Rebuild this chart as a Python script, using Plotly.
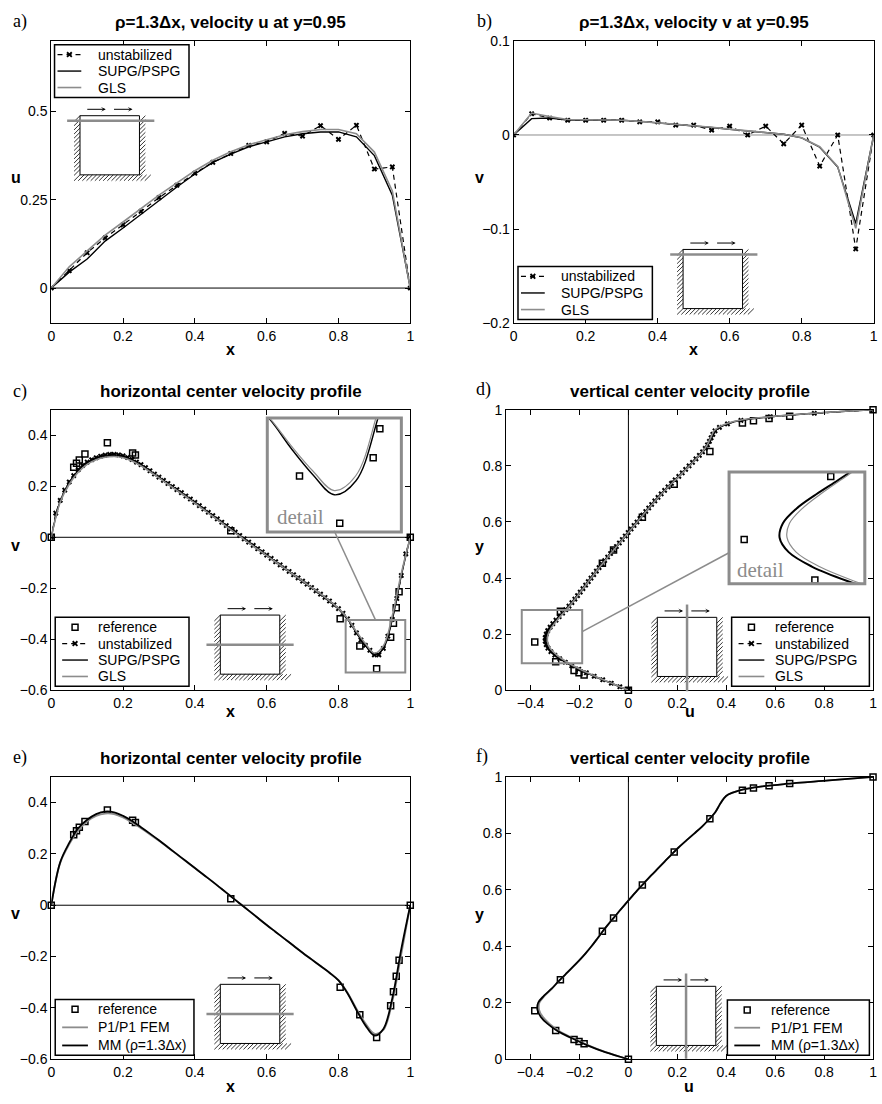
import plotly.graph_objects as go

W, H = 882, 1104


def fx(p):
    return p / W


def fy(p):
    return 1 - p / H


BLACK = "black"
GRAY = "#8c8c8c"
SANS = "Liberation Sans, Arial, sans-serif"
SERIF = "Liberation Serif, Times New Roman, serif"

# ---------------- data ----------------
# coarse mesh nodes along y = 0.95 (panels a, b)
x_coarse = [round(0.05 * i, 2) for i in range(21)]

u_unstab_a = [0, 0.049, 0.100, 0.142, 0.179, 0.217, 0.256, 0.291, 0.325, 0.356, 0.381,
              0.404, 0.414, 0.438, 0.430, 0.460, 0.421, 0.461, 0.337, 0.343, 0]
u_supg_a = [0, 0.045, 0.082, 0.133, 0.170, 0.209, 0.249, 0.286, 0.323, 0.356, 0.379,
            0.400, 0.414, 0.428, 0.437, 0.442, 0.442, 0.428, 0.375, 0.263, 0]
u_gls_a = [0, 0.060, 0.105, 0.150, 0.187, 0.225, 0.263, 0.298, 0.332, 0.362, 0.386,
           0.406, 0.420, 0.434, 0.443, 0.449, 0.449, 0.437, 0.385, 0.275, 0]

v_unstab_b = [0, 0.0226, 0.018, 0.0157, 0.0157, 0.0157, 0.0157, 0.014, 0.014, 0.0105, 0.0105,
              0.0052, 0.0094, 0.0, 0.0094, -0.0094, 0.0105, -0.033, 0.0, -0.121, 0]
v_supg_b = [0, 0.0174, 0.018, 0.016, 0.016, 0.016, 0.0157, 0.0145, 0.013, 0.0115, 0.0098,
            0.008, 0.006, 0.004, 0.0025, 0.0008, -0.003, -0.013, -0.034, -0.094, 0]
v_gls_b = [0, 0.0233, 0.0195, 0.0165, 0.0162, 0.016, 0.0157, 0.0145, 0.013, 0.0115, 0.0098,
           0.0082, 0.0062, 0.0042, 0.0026, 0.0008, -0.003, -0.0125, -0.0335, -0.099, 0]

# fine mesh nodes (panels c, d: unstabilized markers)
s_fine = [i / 80 for i in range(81)]

v_unstab_c = [0, 0.095, 0.145, 0.185, 0.217, 0.242, 0.265, 0.282, 0.295, 0.304,
              0.312, 0.318, 0.322, 0.325, 0.325, 0.323, 0.319, 0.313, 0.305, 0.295,
              0.285, 0.273, 0.261, 0.248, 0.236, 0.223, 0.211, 0.199, 0.187, 0.175,
              0.162, 0.150, 0.137, 0.124, 0.111, 0.098, 0.085, 0.072, 0.059, 0.046,
              0.033, 0.020, 0.007, -0.006, -0.019, -0.032, -0.045, -0.057, -0.070, -0.083,
              -0.096, -0.108, -0.121, -0.134, -0.147, -0.159, -0.172, -0.184, -0.197, -0.210,
              -0.223, -0.236, -0.250, -0.265, -0.280, -0.298, -0.320, -0.345, -0.375, -0.403,
              -0.424, -0.443, -0.461, -0.461, -0.436, -0.388, -0.322, -0.240, -0.150, -0.065,
              0]

u_unstab_d = [0, -0.035, -0.070, -0.105, -0.140, -0.172, -0.203, -0.232, -0.258, -0.281,
              -0.301, -0.317, -0.329, -0.336, -0.340, -0.340, -0.336, -0.330, -0.320, -0.309,
              -0.296, -0.283, -0.269, -0.256, -0.243, -0.231, -0.219, -0.208, -0.197, -0.186,
              -0.175, -0.164, -0.153, -0.142, -0.131, -0.120, -0.108, -0.097, -0.085, -0.073,
              -0.061, -0.049, -0.037, -0.025, -0.013, -0.001, 0.011, 0.023, 0.035, 0.047,
              0.059, 0.071, 0.083, 0.095, 0.108, 0.121, 0.134, 0.148, 0.162, 0.176,
              0.191, 0.206, 0.220, 0.234, 0.248, 0.262, 0.276, 0.290, 0.303, 0.314,
              0.323, 0.331, 0.338, 0.345, 0.354, 0.372, 0.405, 0.460, 0.580, 0.760,
              1.0]

# sampling of the smooth solutions
x_smooth = [round(0.025 * i, 3) for i in range(41)]

v_supg_c = [0, 0.143, 0.215, 0.262, 0.293, 0.311, 0.321, 0.324, 0.318, 0.304,
            0.284, 0.260, 0.235, 0.210, 0.186, 0.161, 0.136, 0.110, 0.084, 0.058,
            0.032, 0.006, -0.020, -0.046, -0.071, -0.097, -0.122, -0.148, -0.173, -0.198,
            -0.224, -0.251, -0.280, -0.320, -0.375, -0.424, -0.462, -0.436, -0.322, -0.150,
            0]
v_gls_c = [0, 0.138, 0.208, 0.255, 0.286, 0.304, 0.314, 0.317, 0.312, 0.299,
           0.280, 0.257, 0.233, 0.208, 0.184, 0.159, 0.134, 0.108, 0.082, 0.056,
           0.030, 0.004, -0.022, -0.047, -0.072, -0.097, -0.122, -0.147, -0.172, -0.197,
           -0.222, -0.249, -0.279, -0.318, -0.370, -0.417, -0.454, -0.426, -0.308, -0.142,
           0]

y_smooth = [0, 0.025, 0.05, 0.075, 0.1, 0.125, 0.15, 0.175, 0.2, 0.225,
            0.25, 0.275, 0.3, 0.325, 0.35, 0.375, 0.4, 0.425, 0.45, 0.475,
            0.5, 0.525, 0.55, 0.575, 0.6, 0.625, 0.65, 0.675, 0.7, 0.725,
            0.75, 0.775, 0.8, 0.825, 0.85, 0.875, 0.9, 0.925, 0.9375, 0.95,
            0.9625, 0.975, 0.9875, 1.0]

u_supg_d = [0, -0.070, -0.140, -0.203, -0.258, -0.301, -0.329, -0.340, -0.336, -0.320,
            -0.296, -0.269, -0.243, -0.219, -0.197, -0.175, -0.153, -0.131, -0.108, -0.085,
            -0.061, -0.037, -0.013, 0.011, 0.035, 0.059, 0.083, 0.108, 0.134, 0.162,
            0.191, 0.220, 0.248, 0.276, 0.303, 0.323, 0.338, 0.354, 0.372, 0.405,
            0.460, 0.580, 0.760, 1.0]
u_gls_d = [0, -0.068, -0.136, -0.197, -0.250, -0.292, -0.320, -0.331, -0.328, -0.313,
           -0.291, -0.266, -0.241, -0.218, -0.196, -0.174, -0.152, -0.130, -0.107, -0.084,
           -0.060, -0.036, -0.012, 0.012, 0.036, 0.060, 0.084, 0.109, 0.135, 0.163,
           0.192, 0.221, 0.249, 0.277, 0.303, 0.322, 0.336, 0.350, 0.368, 0.400,
           0.455, 0.575, 0.755, 1.0]

v_fem_e = [0, 0.165, 0.237, 0.291, 0.327, 0.348, 0.357, 0.355, 0.342, 0.322,
           0.300, 0.276, 0.251, 0.225, 0.198, 0.171, 0.145, 0.118, 0.091, 0.063,
           0.035, 0.007, -0.021, -0.049, -0.077, -0.104, -0.131, -0.158, -0.185, -0.211,
           -0.237, -0.263, -0.292, -0.340, -0.403, -0.460, -0.500, -0.486, -0.375, -0.190,
           0]
v_mm_e = [0, 0.168, 0.243, 0.300, 0.333, 0.355, 0.365, 0.362, 0.348, 0.328,
          0.304, 0.279, 0.253, 0.226, 0.199, 0.172, 0.145, 0.118, 0.091, 0.063,
          0.035, 0.007, -0.021, -0.049, -0.077, -0.104, -0.131, -0.158, -0.185, -0.211,
          -0.237, -0.263, -0.293, -0.343, -0.408, -0.468, -0.508, -0.482, -0.362, -0.170,
          0]

u_fem_f = [0, -0.093, -0.166, -0.228, -0.283, -0.322, -0.350, -0.365, -0.364, -0.342,
           -0.312, -0.286, -0.258, -0.229, -0.201, -0.175, -0.151, -0.129, -0.108, -0.085,
           -0.061, -0.037, -0.012, 0.013, 0.038, 0.065, 0.092, 0.120, 0.148, 0.176,
           0.205, 0.237, 0.270, 0.302, 0.330, 0.355, 0.372, 0.391, 0.408, 0.445,
           0.515, 0.640, 0.820, 1.0]
u_mm_f = [0, -0.095, -0.170, -0.233, -0.290, -0.330, -0.358, -0.372, -0.369, -0.345,
          -0.314, -0.287, -0.258, -0.229, -0.201, -0.175, -0.151, -0.129, -0.108, -0.085,
          -0.061, -0.037, -0.012, 0.013, 0.038, 0.065, 0.092, 0.120, 0.148, 0.176,
          0.205, 0.237, 0.270, 0.302, 0.330, 0.355, 0.372, 0.391, 0.408, 0.445,
          0.515, 0.640, 0.820, 1.0]

# reference solution (horizontal and vertical centre lines)
ref_x = [1.0, 0.9688, 0.9609, 0.9531, 0.9453, 0.9063, 0.8594, 0.8047, 0.5,
         0.2344, 0.2266, 0.1563, 0.0938, 0.0781, 0.0703, 0.0625, 0.0]
ref_v = [0.0, -0.21388, -0.27669, -0.33714, -0.39188, -0.51550, -0.42665, -0.31966, 0.02526,
         0.32235, 0.33075, 0.37095, 0.32627, 0.30353, 0.29012, 0.27485, 0.0]
ref_y = [1.0, 0.9766, 0.9688, 0.9609, 0.9531, 0.8516, 0.7344, 0.6172, 0.5,
         0.4531, 0.2813, 0.1719, 0.1016, 0.0703, 0.0625, 0.0547, 0.0]
ref_u = [1.0, 0.65928, 0.57492, 0.51117, 0.46604, 0.33304, 0.18719, 0.05702, -0.06080,
         -0.10648, -0.27805, -0.38289, -0.29730, -0.22220, -0.20196, -0.18109, 0.0]

titles = ["ρ=1.3Δx, velocity u at y=0.95", "ρ=1.3Δx, velocity v at y=0.95",
          "horizontal center velocity profile", "vertical center velocity profile",
          "horizontal center velocity profile", "vertical center velocity profile"]
letters = ["a)", "b)", "c)", "d)", "e)", "f)"]
names_stab = ["unstabilized", "SUPG/PSPG", "GLS"]
names_mm = ["reference", "P1/P1 FEM", "MM (ρ=1.3Δx)"]

# ---------------- figure ----------------
fig = go.Figure()

UNSTAB_LINE = dict(color=BLACK, width=1.2, dash="5px,4px")
SUPG_LINE = dict(color=BLACK, width=1.4)
GLS_LINE = dict(color=GRAY, width=1.6)


def unstab(x, y, xa, ya, size):
    return go.Scatter(x=x, y=y, xaxis=xa, yaxis=ya, name=names_stab[0], showlegend=False,
                      mode="lines+markers", line=UNSTAB_LINE,
                      marker=dict(symbol="x", size=size, color=BLACK, line=dict(width=0)))


def curve(x, y, xa, ya, name, line, shape="linear"):
    return go.Scatter(x=x, y=y, xaxis=xa, yaxis=ya, name=name, mode="lines",
                      line=dict(line, shape=shape), showlegend=False)


def refpts(x, y, xa, ya, clip=False):
    return go.Scatter(x=x, y=y, xaxis=xa, yaxis=ya, name="reference",
                      mode="markers", showlegend=False, cliponaxis=clip,
                      marker=dict(symbol="square-open", size=6, color=BLACK,
                                  line=dict(width=1.5, color=BLACK)))


# a)
fig.add_trace(unstab(x_coarse, u_unstab_a, "x", "y", 5))
fig.add_trace(curve(x_coarse, u_supg_a, "x", "y", names_stab[1], SUPG_LINE))
fig.add_trace(curve(x_coarse, u_gls_a, "x", "y", names_stab[2], GLS_LINE))
# b)
fig.add_trace(unstab(x_coarse, v_unstab_b, "x2", "y2", 5))
fig.add_trace(curve(x_coarse, v_supg_b, "x2", "y2", names_stab[1], SUPG_LINE))
fig.add_trace(curve(x_coarse, v_gls_b, "x2", "y2", names_stab[2], GLS_LINE))
# c)
fig.add_trace(refpts(ref_x, ref_v, "x3", "y3"))
fig.add_trace(unstab(s_fine, v_unstab_c, "x3", "y3", 5))
fig.add_trace(curve(x_smooth, v_supg_c, "x3", "y3", names_stab[1], SUPG_LINE, "spline"))
fig.add_trace(curve(x_smooth, v_gls_c, "x3", "y3", names_stab[2], GLS_LINE, "spline"))
# d)
fig.add_trace(refpts(ref_u, ref_y, "x4", "y4"))
fig.add_trace(unstab(u_unstab_d, s_fine, "x4", "y4", 5))
fig.add_trace(curve(u_supg_d, y_smooth, "x4", "y4", names_stab[1], SUPG_LINE, "spline"))
fig.add_trace(curve(u_gls_d, y_smooth, "x4", "y4", names_stab[2], GLS_LINE, "spline"))
# e)
fig.add_trace(refpts(ref_x, ref_v, "x5", "y5"))
fig.add_trace(curve(x_smooth, v_fem_e, "x5", "y5", names_mm[1], dict(color=GRAY, width=1.8), "spline"))
fig.add_trace(curve(x_smooth, v_mm_e, "x5", "y5", names_mm[2], dict(color=BLACK, width=1.8), "spline"))
# f)
fig.add_trace(refpts(ref_u, ref_y, "x6", "y6"))
fig.add_trace(curve(u_fem_f, y_smooth, "x6", "y6", names_mm[1], dict(color=GRAY, width=1.8), "spline"))
fig.add_trace(curve(u_mm_f, y_smooth, "x6", "y6", names_mm[2], dict(color=BLACK, width=1.8), "spline"))
# detail views
fig.add_trace(curve(x_smooth, v_supg_c, "x7", "y7", names_stab[1], SUPG_LINE, "spline"))
fig.add_trace(curve(x_smooth, v_gls_c, "x7", "y7", names_stab[2], dict(color=GRAY, width=1.2), "spline"))
fig.add_trace(refpts(ref_x, ref_v, "x7", "y7", True))
fig.add_trace(curve(u_supg_d, y_smooth, "x8", "y8", names_stab[1], dict(color=BLACK, width=2), "spline"))
fig.add_trace(curve(u_gls_d, y_smooth, "x8", "y8", names_stab[2], dict(color=GRAY, width=1.2), "spline"))
fig.add_trace(refpts(ref_u, ref_y, "x8", "y8", True))


def ax(domain, rng, anchor, **kw):
    d = dict(domain=domain, range=rng, anchor=anchor, showline=True, linecolor=BLACK,
             linewidth=1, mirror="allticks", ticks="inside", ticklen=5, tickwidth=1,
             tickcolor=BLACK, showgrid=False, zeroline=False,
             tickfont=dict(family=SANS, size=14, color=BLACK))
    d.update(kw)
    return d


xl = [fx(47.7), fx(410)]
xr_b = [fx(514.3), fx(877.7)]
xr = [fx(506.7), fx(877)]
row1 = [fy(320), fy(33.3)]
row2 = [fy(692.3), fy(407.7)]
row3 = [fy(1066.7), fy(780.2)]
x01 = [0, 0.2, 0.4, 0.6, 0.8, 1]
xu = [-0.4, -0.2, 0, 0.2, 0.4, 0.6, 0.8, 1]
yv = [-0.6, -0.4, -0.2, 0, 0.2, 0.4]

inset_axis = dict(showline=True, linecolor="#444", linewidth=1, mirror=True, ticks="",
                  showticklabels=False, showgrid=False, zeroline=False)

fig.update_layout(
    xaxis=ax(xl, [0, 1], "y", tickvals=x01),
    yaxis=ax(row1, [-0.1, 0.7], "x", tickvals=[0, 0.25, 0.5]),
    xaxis2=ax(xr_b, [0, 1], "y2", tickvals=x01),
    yaxis2=ax(row1, [-0.2, 0.1], "x2", tickvals=[-0.2, -0.1, 0, 0.1]),
    xaxis3=ax(xl, [0, 1], "y3", tickvals=x01),
    yaxis3=ax(row2, [-0.6, 0.5], "x3", tickvals=yv),
    xaxis4=ax(xr, [-0.5, 1], "y4", tickvals=xu),
    yaxis4=ax(row2, [0, 1], "x4", tickvals=x01),
    xaxis5=ax(xl, [0, 1], "y5", tickvals=x01),
    yaxis5=ax(row3, [-0.6, 0.5], "x5", tickvals=yv),
    xaxis6=ax(xr, [-0.5, 1], "y6", tickvals=xu),
    yaxis6=ax(row3, [0, 1], "x6", tickvals=x01),
    xaxis7=dict(inset_axis, domain=[fx(266.7), fx(400)], range=[0.823, 0.977], anchor="y7"),
    yaxis7=dict(inset_axis, domain=[fy(530.7), fy(417)], range=[-0.5304, -0.3187], anchor="x7"),
    xaxis8=dict(inset_axis, domain=[fx(732.7), fx(867.7)], range=[-0.400, -0.238], anchor="y8"),
    yaxis8=dict(inset_axis, domain=[fy(583.3), fy(471.7)], range=[0.0967, 0.2875], anchor="x8"),
)

shapes = []
annotations = []

# zero reference lines
for xa, ya, col in [("x", "y", BLACK), ("x2", "y2", GRAY), ("x3", "y3", BLACK), ("x5", "y5", BLACK)]:
    shapes.append(dict(type="line", xref=xa, yref=ya, x0=0, x1=1, y0=0, y1=0,
                       line=dict(color=col, width=1), layer="below"))
for xa, ya in [("x4", "y4"), ("x6", "y6")]:
    shapes.append(dict(type="line", xref=xa, yref=ya, x0=0, x1=0, y0=0, y1=1,
                       line=dict(color=BLACK, width=1), layer="below"))

# detail frames and leader lines
shapes += [
    dict(type="rect", xref="x3", yref="y3", x0=0.82, x1=0.986, y0=-0.53, y1=-0.324,
         line=dict(color=GRAY, width=2)),
    dict(type="line", xref="x3", yref="y3", x0=0.903, y0=-0.324, x1=0.788, y1=0.0255,
         line=dict(color=GRAY, width=1.5)),
    dict(type="rect", xref="paper", yref="paper", x0=fx(265.7), x1=fx(401), y0=fy(531.7), y1=fy(416),
         line=dict(color=GRAY, width=3)),
    dict(type="rect", xref="x4", yref="y4", x0=-0.436, x1=-0.189, y0=0.096, y1=0.286,
         line=dict(color=GRAY, width=2)),
    dict(type="line", xref="x4", yref="y4", x0=-0.189, y0=0.209, x1=0.415, y1=0.492,
         line=dict(color=GRAY, width=1.5)),
    dict(type="rect", xref="paper", yref="paper", x0=fx(731.7), x1=fx(868.7), y0=fy(584.3), y1=fy(470.7),
         line=dict(color=GRAY, width=3)),
]
annotations += [
    dict(text="detail", xref="paper", yref="paper", x=fx(273), y=fy(516.5), xanchor="left",
         yanchor="middle", showarrow=False, font=dict(family=SERIF, size=21, color=GRAY)),
    dict(text="detail", xref="paper", yref="paper", x=fx(738), y=fy(570.5), xanchor="left",
         yanchor="middle", showarrow=False, font=dict(family=SERIF, size=21, color=GRAY)),
]


# lid-driven cavity sketches
def cavity(left, top, kind, ext):
    s = 60
    right, bottom = left + s, top + s
    out = [dict(type="rect", xref="paper", yref="paper", x0=fx(left), x1=fx(right),
                y0=fy(bottom), y1=fy(top), line=dict(color=BLACK, width=1))]
    segs = []
    for k in range(14):
        yk = top + 6 + k * 4.2
        segs.append((left - 6, yk, left, yk - 6))
        segs.append((right, yk, right + 6, yk - 6))
    for k in range(18):
        xk = left - 6 + k * 4.2
        segs.append((xk, bottom + 6, xk + 6, bottom))
    path = " ".join(f"M{fx(a):.5f},{fy(b):.5f}L{fx(c):.5f},{fy(d):.5f}" for a, b, c, d in segs)
    out.append(dict(type="path", xref="paper", yref="paper", path=path,
                    line=dict(color=BLACK, width=0.8)))
    if kind == "top":
        out.append(dict(type="line", xref="paper", yref="paper", x0=fx(left - 13), x1=fx(right + 15),
                        y0=fy(top + 5), y1=fy(top + 5), line=dict(color=GRAY, width=2.5)))
    elif kind == "mid":
        out.append(dict(type="line", xref="paper", yref="paper", x0=fx(left - 14), x1=fx(right + 14),
                        y0=fy(top + 30), y1=fy(top + 30), line=dict(color=GRAY, width=2.5)))
    else:
        out.append(dict(type="line", xref="paper", yref="paper", x0=fx(left + 30), x1=fx(left + 30),
                        y0=fy(top - 13), y1=fy(bottom + ext), line=dict(color=GRAY, width=2.5)))
    arrows = []
    for x_head in (left + 26, left + 53):
        arrows.append(dict(x=fx(x_head), y=fy(top - 6.5), xref="paper", yref="paper", text="",
                           showarrow=True, ax=-20, ay=0, arrowhead=3, arrowsize=0.8,
                           arrowwidth=1, arrowcolor=BLACK, standoff=0, startstandoff=0))
    return out, arrows


for left, top, kind, ext in [(76.7, 109.3, "top", 0), (685.3, 245, "top", 0),
                             (218.3, 616, "mid", 0), (659.3, 618.3, "vert", 15),
                             (218.3, 990.7, "mid", 0), (658.3, 992.7, "vert", 13.5)]:
    s_, a_ = cavity(left, top, kind, ext)
    shapes += s_
    annotations += a_


# boxed keys: each entry is (style, label)
def key_box(left, top, width, height, entries, l0, l1):
    out = [dict(type="rect", xref="paper", yref="paper", x0=fx(left), x1=fx(left + width),
                y0=fy(top + height), y1=fy(top), fillcolor="white",
                line=dict(color=BLACK, width=1.5), layer="above")]
    notes = []
    n = len(entries)
    step = (height - 20) / (n - 1)
    cx = left + (l0 + l1) / 2
    for i, (style, label) in enumerate(entries):
        yc = top + 10 + i * step
        if style in ("dash", "solid", "gray", "solid2", "gray2"):
            line = {"dash": dict(color=BLACK, width=1.2, dash="5px,4px"),
                    "solid": dict(color=BLACK, width=1.4),
                    "gray": dict(color=GRAY, width=1.6),
                    "solid2": dict(color=BLACK, width=1.8),
                    "gray2": dict(color=GRAY, width=1.8)}[style]
            out.append(dict(type="line", xref="paper", yref="paper", x0=fx(left + l0),
                            x1=fx(left + l1), y0=fy(yc), y1=fy(yc), line=line, layer="above"))
        if style == "dash":
            for dy in (-2.4, 2.4):
                out.append(dict(type="line", xref="paper", yref="paper", x0=fx(cx - 2.4),
                                x1=fx(cx + 2.4), y0=fy(yc - dy), y1=fy(yc + dy),
                                line=dict(color=BLACK, width=1.8), layer="above"))
        if style == "ref":
            out.append(dict(type="rect", xref="paper", yref="paper", x0=fx(cx - 3), x1=fx(cx + 3),
                            y0=fy(yc + 3), y1=fy(yc - 3), fillcolor="white",
                            line=dict(color=BLACK, width=1.5), layer="above"))
        notes.append(dict(text=label, xref="paper", yref="paper", x=fx(left + 41.5), y=fy(yc),
                          xanchor="left", yanchor="middle", showarrow=False,
                          font=dict(family=SANS, size=14, color=BLACK)))
    return out, notes


stab_entries = [("dash", names_stab[0]), ("solid", names_stab[1]), ("gray", names_stab[2])]
full_entries = [("ref", "reference")] + stab_entries
mm_entries = [("ref", names_mm[0]), ("gray2", names_mm[1]), ("solid2", names_mm[2])]
for args in [(51, 37.3, 135.7, 53.4, stab_entries, 3, 27),
             (518.7, 262.3, 135.6, 53.7, stab_entries, 3, 27),
             (51.7, 618.3, 135, 70, full_entries, 7, 33),
             (734.3, 618.3, 139, 70, full_entries, 7, 33),
             (51.7, 1006, 140, 56.7, mm_entries, 7, 33),
             (730, 1006.7, 143.3, 56, mm_entries, 7, 33)]:
    s_, a_ = key_box(*args)
    shapes += s_
    annotations += a_

# panel titles, letters and axis names
centres = [(228.9, 15), (696, 15), (228.9, 389.5), (691.8, 389.5), (228.9, 762), (691.8, 762)]
letter_pos = [(7, 14), (475, 14), (7, 389), (474, 387), (7, 761), (474, 760)]
for t, (cx, cy), lt, (lx, ly) in zip(titles, centres, letters, letter_pos):
    annotations.append(dict(text=f"<b>{t}</b>", xref="paper", yref="paper", x=fx(cx), y=fy(cy),
                            xanchor="center", yanchor="middle", showarrow=False,
                            font=dict(family=SANS, size=17, color=BLACK)))
    annotations.append(dict(text=lt, xref="paper", yref="paper", x=fx(lx), y=fy(ly),
                            xanchor="left", yanchor="middle", showarrow=False,
                            font=dict(family=SERIF, size=18, color=BLACK)))

axis_names = [("u", 12.5, 172), ("x", 229, 347), ("v", 480, 172), ("x", 696, 347),
              ("v", 12, 545), ("x", 229, 714), ("y", 480, 546.7), ("u", 692, 714),
              ("v", 12, 919), ("x", 229, 1094), ("y", 480, 920), ("u", 691.7, 1094)]
for t, px_, py_ in axis_names:
    annotations.append(dict(text=f"<b>{t}</b>", xref="paper", yref="paper", x=fx(px_), y=fy(py_),
                            xanchor="center", yanchor="middle", showarrow=False,
                            font=dict(family=SANS, size=16, color=BLACK)))

fig.update_layout(
    shapes=shapes,
    annotations=annotations,
    width=W, height=H,
    margin=dict(l=0, r=0, t=0, b=0),
    paper_bgcolor="white",
    plot_bgcolor="white",
    showlegend=False,
)

fig.write_html("out.html")
